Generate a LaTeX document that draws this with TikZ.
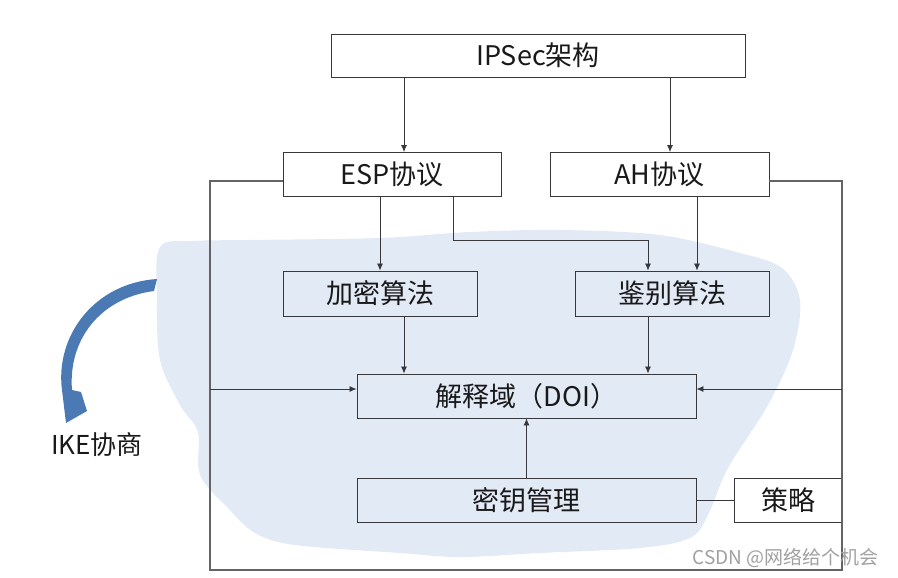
\documentclass[tikz,border=0pt]{standalone}
\usepackage{fontspec}
\setmainfont{Noto Sans CJK SC}
\usetikzlibrary{arrows.meta}
\definecolor{blobblue}{RGB}{226,234,246}
\definecolor{ikeblue}{RGB}{74,121,180}
\definecolor{boxline}{RGB}{55,55,60}
\definecolor{frameline}{RGB}{100,100,100}
\definecolor{txt}{RGB}{25,25,25}
\definecolor{wm}{RGB}{160,160,160}
\tikzset{
  box/.style={draw=boxline, line width=0.9pt, rectangle, inner sep=0pt, text=txt,
    font=\fontsize{27}{30}\selectfont},
  arr/.style={draw=boxline, line width=0.8pt, -{Latex[length=7pt,width=6pt]}},
  frame/.style={draw=frameline, line width=1.1pt},
  link/.style={draw=boxline, line width=0.8pt},
}
\begin{document}
\begin{tikzpicture}[x=1pt,y=-1pt]
\useasboundingbox (0,0) rectangle (898,578);
% blob
\fill[blobblue] plot[smooth cycle, tension=0.55] coordinates {
 (160,247) (157,300) (160,360) (180,405) (198,432) (200,475) (228,508)
 (255,533) (295,545) (400,553) (460,557) (540,553) (640,548) (690,538)
 (708,515) (728,468) (768,405) (793,350) (800,300) (782,268) (740,253)
 (660,235) (560,230) (470,232) (380,238) (250,240) (195,241)};
% IKE arrow
\fill[ikeblue] (157,279) .. controls (95,283) and (55,335) .. (62,390)
  -- (66,423) -- (87,411) -- (81,392) -- (72,390)
  .. controls (68,340) and (100,298) .. (154,291) -- cycle;
\node[text=txt, font=\fontsize{26}{30}\selectfont] (ike) at (97,445) {IKE协商};
% boxes
\node[box, minimum width=414pt, minimum height=43pt] (ipsec) at (538,55.5) {IPSec架构};
\node[box, minimum width=218pt, minimum height=44pt] (esp) at (392,174.5) {ESP协议};
\node[box, minimum width=219pt, minimum height=44pt] (ah) at (659.5,174.5) {AH协议};
\node[box, minimum width=194pt, minimum height=45pt] (jiami) at (380,293.5) {加密算法};
\node[box, minimum width=194pt, minimum height=45pt] (jianbie) at (672,293.5) {鉴别算法};
\node[box, minimum width=339pt, minimum height=44pt] (doi) at (526.5,396) {解释域（DOI）};
\node[box, minimum width=339pt, minimum height=44pt] (key) at (526.5,500) {密钥管理};
\node[box, minimum width=108pt, minimum height=44pt] (celue) at (788,500) {策略};
% helper coordinates
\coordinate (xa) at (404,0);
\coordinate (xb) at (670,0);
\coordinate (xc) at (697,0);
\coordinate (bend1) at (453,240);
\coordinate (bend2) at (648,240);
\coordinate (fl) at (210,181);
\coordinate (fr) at (842,181);
\coordinate (fbl) at (210,570);
\coordinate (fbr) at (842,570);
\coordinate (dl) at (210,389);
\coordinate (dr) at (842,389);
% connectors
\draw[arr] (ipsec.south -| xa) -- (esp.north -| xa);
\draw[arr] (ipsec.south -| xb) -- (ah.north -| xb);
\draw[arr] (esp.south -| jiami) -- (jiami.north);
\draw[arr] (esp.south -| bend1) -- (bend1) -- (bend2) -- (jianbie.north -| bend2);
\draw[arr] (ah.south -| xc) -- (jianbie.north -| xc);
\draw[arr] (jiami.south -| xa) -- (doi.north -| xa);
\draw[arr] (jianbie.south -| bend2) -- (doi.north -| bend2);
\draw[arr] (key.north) -- (doi.south);
\draw[link] (key.east) -- (celue.west);
\draw[frame] (esp.west |- fl) -- (fl) -- (fbl) -- (fbr) -- (fr) -- (ah.east |- fr);
\draw[arr] (dl) -- (doi.west |- dl);
\draw[arr] (dr) -- (doi.east |- dr);
% watermark
\node[text=wm, font=\fontsize{19}{22}\selectfont, anchor=east] (wmk) at (882,558) {CSDN @网络给个机会};
\end{tikzpicture}
\end{document}
